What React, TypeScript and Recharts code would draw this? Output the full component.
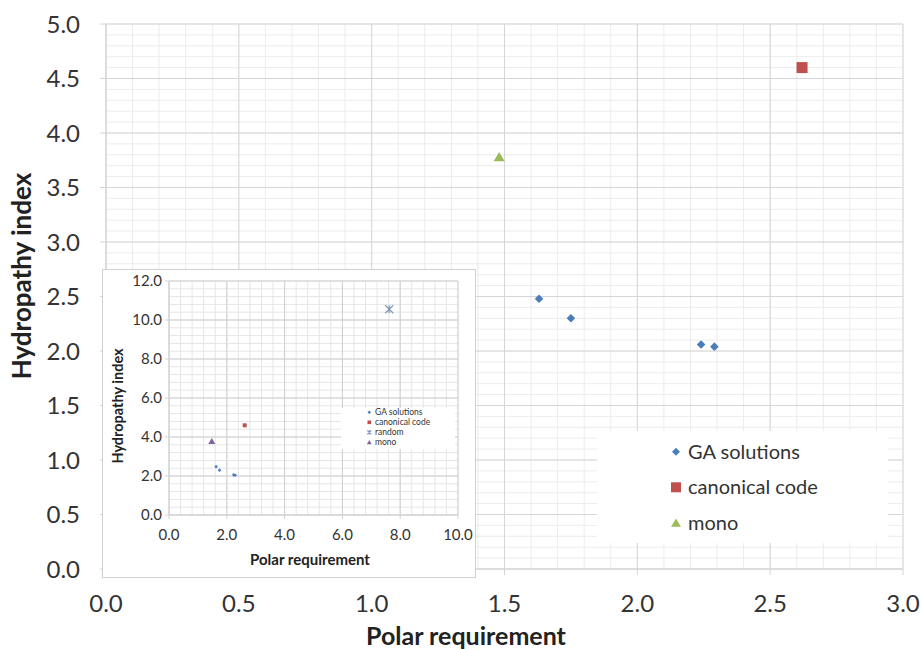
import React from "react";
import { ScatterChart, Scatter, XAxis, YAxis, CartesianGrid } from "recharts";

// values
const gaX = [1.63, 1.75, 2.24, 2.29];
const gaY = [2.48, 2.3, 2.06, 2.04];
const canonicalX = [2.62];
const canonicalY = [4.6];
const monoX = [1.48];
const monoY = [3.78];
const randomX = [7.62];
const randomY = [10.55];

const mainXTicks = [0, 0.5, 1, 1.5, 2, 2.5, 3];
const mainYTicks = [0, 0.5, 1, 1.5, 2, 2.5, 3, 3.5, 4, 4.5, 5];
const insetXTicks = [0, 2, 4, 6, 8, 10];
const insetYTicks = [0, 2, 4, 6, 8, 10, 12];

const BLUE = "#4A7EBB";
const RED = "#C0504D";
const GREEN = "#9BBB59";
const PURPLE = "#8064A2";
const STEEL = "#8197BF";
const FONT = "Lato, 'Open Sans', sans-serif";

const toPoints = (xs: number[], ys: number[]) => xs.map((x, i) => ({ x, y: ys[i] }));

// grid line positions between the labelled ticks
function minor(max: number, step: number) {
  const out: number[] = [];
  for (let i = 0; i * step <= max + 1e-9; i++) out.push(+(i * step).toFixed(2));
  return out;
}

const f1 = (v: number) => v.toFixed(1);

type Mk = { cx: number; cy: number; r: number; fill: string };

const Diamond = ({ cx, cy, r, fill }: Mk) => (
  <path d={`M${cx},${cy - r}L${cx + r},${cy}L${cx},${cy + r}L${cx - r},${cy}Z`} fill={fill} />
);
const Square = ({ cx, cy, r, fill }: Mk) => (
  <rect x={cx - r} y={cy - r} width={2 * r} height={2 * r} fill={fill} />
);
const Triangle = ({ cx, cy, r, fill }: Mk) => (
  <path d={`M${cx},${cy - r}L${cx + r * 1.1},${cy + r * 0.85}L${cx - r * 1.1},${cy + r * 0.85}Z`} fill={fill} />
);
const Star = ({ cx, cy, r, fill }: Mk) => (
  <path
    d={`M${cx - r},${cy - r}L${cx + r},${cy + r}M${cx - r},${cy + r}L${cx + r},${cy - r}M${cx},${cy - r}L${cx},${cy + r}`}
    stroke={fill}
    strokeWidth={1.2}
    fill="none"
  />
);

const shapeOf = (M: (p: Mk) => React.ReactElement, r: number, fill: string) =>
  (p: any) => <M cx={p.cx} cy={p.cy} r={r} fill={fill} />;

const mainLegend = [
  { name: "GA solutions", M: Diamond, r: 4, fill: BLUE },
  { name: "canonical code", M: Square, r: 5, fill: RED },
  { name: "mono", M: Triangle, r: 4.5, fill: GREEN },
];
const insetLegend = [
  { name: "GA solutions", M: Diamond, r: 1.8, fill: BLUE },
  { name: "canonical code", M: Square, r: 1.8, fill: RED },
  { name: "random", M: Star, r: 2, fill: STEEL },
  { name: "mono", M: Triangle, r: 2.2, fill: PURPLE },
];

const axisGrey = "#d4d4d4";

function MainChart() {
  return (
    <ScatterChart width={921} height={649} margin={{ top: 24, right: 18, bottom: 0, left: 0 }}>
      <CartesianGrid verticalValues={minor(3, 0.1)} horizontalValues={minor(5, 0.1)} stroke="#ececec" />
      <CartesianGrid verticalValues={mainXTicks} horizontalValues={mainYTicks} stroke="#d6d6d6" />
      <XAxis
        type="number"
        dataKey="x"
        domain={[0, 3]}
        ticks={mainXTicks}
        interval={0}
        tickFormatter={f1}
        height={80}
        tickSize={6}
        tickMargin={20}
        axisLine={{ stroke: axisGrey }}
        tickLine={{ stroke: axisGrey }}
        tick={{ fontSize: 24, fill: "#333", fontFamily: FONT }}
      />
      <YAxis
        type="number"
        dataKey="y"
        domain={[0, 5]}
        ticks={mainYTicks}
        interval={0}
        tickFormatter={f1}
        width={106}
        tickSize={6}
        tickMargin={20}
        axisLine={{ stroke: axisGrey }}
        tickLine={{ stroke: axisGrey }}
        tick={{ fontSize: 24, fill: "#333", fontFamily: FONT }}
      />
      <Scatter data={toPoints(gaX, gaY)} shape={shapeOf(Diamond, 4.3, BLUE)} isAnimationActive={false} />
      <Scatter data={toPoints(canonicalX, canonicalY)} shape={shapeOf(Square, 5.5, RED)} isAnimationActive={false} />
      <Scatter data={toPoints(monoX, monoY)} shape={shapeOf(Triangle, 5, GREEN)} isAnimationActive={false} />
    </ScatterChart>
  );
}

function InsetChart() {
  return (
    <ScatterChart width={372} height={307} margin={{ top: 11, right: 17, bottom: 0, left: 0 }}>
      <CartesianGrid verticalValues={minor(10, 0.4)} horizontalValues={minor(12, 0.4)} stroke="#e6e6e6" />
      <CartesianGrid verticalValues={insetXTicks} horizontalValues={insetYTicks} stroke="#cfcfcf" />
      <XAxis
        type="number"
        dataKey="x"
        domain={[0, 10]}
        ticks={insetXTicks}
        interval={0}
        tickFormatter={f1}
        height={62}
        tickSize={4}
        tickMargin={10}
        axisLine={{ stroke: axisGrey }}
        tickLine={{ stroke: axisGrey }}
        tick={{ fontSize: 15, fill: "#333", fontFamily: FONT }}
      />
      <YAxis
        type="number"
        dataKey="y"
        domain={[0, 12]}
        ticks={insetYTicks}
        interval={0}
        tickFormatter={f1}
        width={66}
        tickSize={4}
        tickMargin={3}
        axisLine={{ stroke: axisGrey }}
        tickLine={{ stroke: axisGrey }}
        tick={{ fontSize: 15, fill: "#333", fontFamily: FONT }}
      />
      <Scatter data={toPoints(gaX, gaY)} shape={shapeOf(Diamond, 1.8, BLUE)} isAnimationActive={false} />
      <Scatter data={toPoints(canonicalX, canonicalY)} shape={shapeOf(Square, 2, RED)} isAnimationActive={false} />
      <Scatter data={toPoints(randomX, randomY)} shape={shapeOf(Star, 4, STEEL)} isAnimationActive={false} />
      <Scatter data={toPoints(monoX, monoY)} shape={shapeOf(Triangle, 3.2, PURPLE)} isAnimationActive={false} />
    </ScatterChart>
  );
}

export default function App() {
  return (
    <div style={{ position: "absolute", left: 0, top: 0, width: 921, height: 649, background: "#fff", fontFamily: FONT }}>
      <MainChart />
      <div
        style={{
          position: "absolute",
          left: 102,
          top: 269,
          width: 372,
          height: 307,
          border: "1px solid #d0d0d0",
          background: "#fff",
        }}
      >
        <InsetChart />
      </div>
      <svg width={921} height={649} style={{ position: "absolute", left: 0, top: 0, pointerEvents: "none" }}>
        {/* main titles */}
        <text x={466} y={645} textAnchor="middle" fontSize={25} fontWeight={700} fill="#222" fontFamily={FONT}>
          Polar requirement
        </text>
        <text transform="translate(31,276) rotate(-90)" textAnchor="middle" fontSize={26} fontWeight={700} fill="#222" fontFamily={FONT}>
          Hydropathy index
        </text>
        {/* main legend */}
        <rect x={597} y={431} width={291} height={112} fill="#fff" />
        {mainLegend.map((it, i) => {
          const cy = 451.7 + i * 35.6;
          return (
            <g key={it.name}>
              <it.M cx={676} cy={cy} r={it.r} fill={it.fill} />
              <text x={688} y={cy + 7} fontSize={20} fill="#333" fontFamily={FONT}>
                {it.name}
              </text>
            </g>
          );
        })}
        {/* inset titles */}
        <text x={310} y={565} textAnchor="middle" fontSize={15} fontWeight={700} fill="#222" fontFamily={FONT}>
          Polar requirement
        </text>
        <text transform="translate(123,406) rotate(-90)" textAnchor="middle" fontSize={14.5} fontWeight={700} fill="#222" fontFamily={FONT}>
          Hydropathy index
        </text>
        {/* inset legend */}
        <rect x={341} y={408} width={114} height={41} fill="#fff" />
        {insetLegend.map((it, i) => {
          const cy = 412.3 + i * 10;
          return (
            <g key={it.name}>
              <it.M cx={369.3} cy={cy} r={it.r} fill={it.fill} />
              <text x={375} y={cy + 3} fontSize={8.5} fill="#333" fontFamily={FONT}>
                {it.name}
              </text>
            </g>
          );
        })}
      </svg>
    </div>
  );
}
